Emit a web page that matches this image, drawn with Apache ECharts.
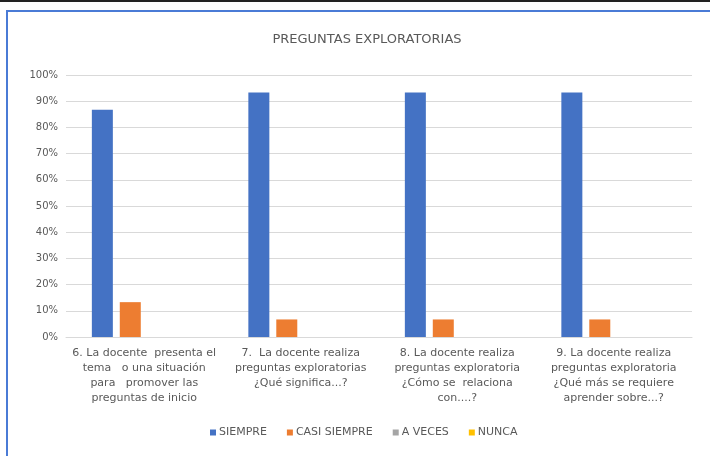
<!DOCTYPE html>
<html>
<head>
<meta charset="utf-8">
<script src="https://cdn.jsdelivr.net/npm/echarts@6/dist/echarts.min.js"></script>
<style>
  html, body { margin: 0; padding: 0; background: #fff; }
  #chart { width: 710px; height: 456px; }
</style>
</head>
<body>
<div id="chart"></div>
<script>
// categories (x axis labels)
const categories = [
  "6. La docente  presenta el\ntema   o una situación\npara   promover las\npreguntas de inicio",
  "7.  La docente realiza\npreguntas exploratorias\n¿Qué significa...?",
  "8. La docente realiza\npreguntas exploratoria\n¿Cómo se  relaciona\ncon....?",
  "9. La docente realiza\npreguntas exploratoria\n¿Qué más se requiere\naprender sobre...?"
];
const seriesNames = ["SIEMPRE", "CASI SIEMPRE", "A VECES", "NUNCA"];
const siempre = [86.7, 93.3, 93.3, 93.3];
const casiSiempre = [13.3, 6.7, 6.7, 6.7];
const aVeces = [0, 0, 0, 0];
const nunca = [0, 0, 0, 0];
const colors = ["#4472C4", "#ED7D31", "#A5A5A5", "#FFC000"];

const font = "'DejaVu Sans', sans-serif";
const allData = [siempre, casiSiempre, aVeces, nunca];

let chart = echarts.init(document.getElementById("chart"));
chart.setOption({
  animation: false,
  textStyle: { fontFamily: font },
  title: {
    text: "PREGUNTAS EXPLORATORIAS",
    left: 362,
    top: 28,
    textAlign: "center",
    textStyle: { color: "#595959", fontSize: 13, fontWeight: "normal", fontFamily: font }
  },
  graphic: [
    { type: "rect", shape: { x: 0, y: 0, width: 710, height: 2 }, style: { fill: "#222" } },
    { type: "rect", shape: { x: 6, y: 10, width: 704, height: 2 }, style: { fill: "#4A7BD6" } },
    { type: "rect", shape: { x: 6, y: 10, width: 2, height: 446 }, style: { fill: "#4A7BD6" } }
  ],
  legend: {
    data: seriesNames,
    bottom: 13,
    left: 205,
    icon: "rect",
    itemWidth: 6,
    itemHeight: 6,
    itemGap: 20,
    textStyle: { color: "#595959", fontSize: 11, fontFamily: font, padding: [0, 0, 0, -2] }
  },
  grid: { left: 66, right: 18, top: 75, bottom: 119 },
  xAxis: {
    type: "category",
    data: categories,
    axisLine: { lineStyle: { color: "#D9D9D9" } },
    axisTick: { show: false },
    axisLabel: {
      interval: 0,
      color: "#595959",
      fontSize: 11,
      lineHeight: 15,
      margin: 9,
      fontFamily: font
    }
  },
  yAxis: {
    type: "value",
    min: 0,
    max: 100,
    interval: 10,
    axisLine: { show: false },
    axisTick: { show: false },
    axisLabel: { formatter: "{value}%", color: "#595959", fontSize: 10, margin: 8, fontFamily: font },
    splitLine: { lineStyle: { color: "#D9D9D9", width: 1 } }
  },
  series: seriesNames.map((name, i) => ({
    name: name,
    type: "bar",
    data: allData[i],
    barWidth: 21,
    barGap: "33%",
    itemStyle: { color: colors[i] }
  }))
});
</script>
</body>
</html>
